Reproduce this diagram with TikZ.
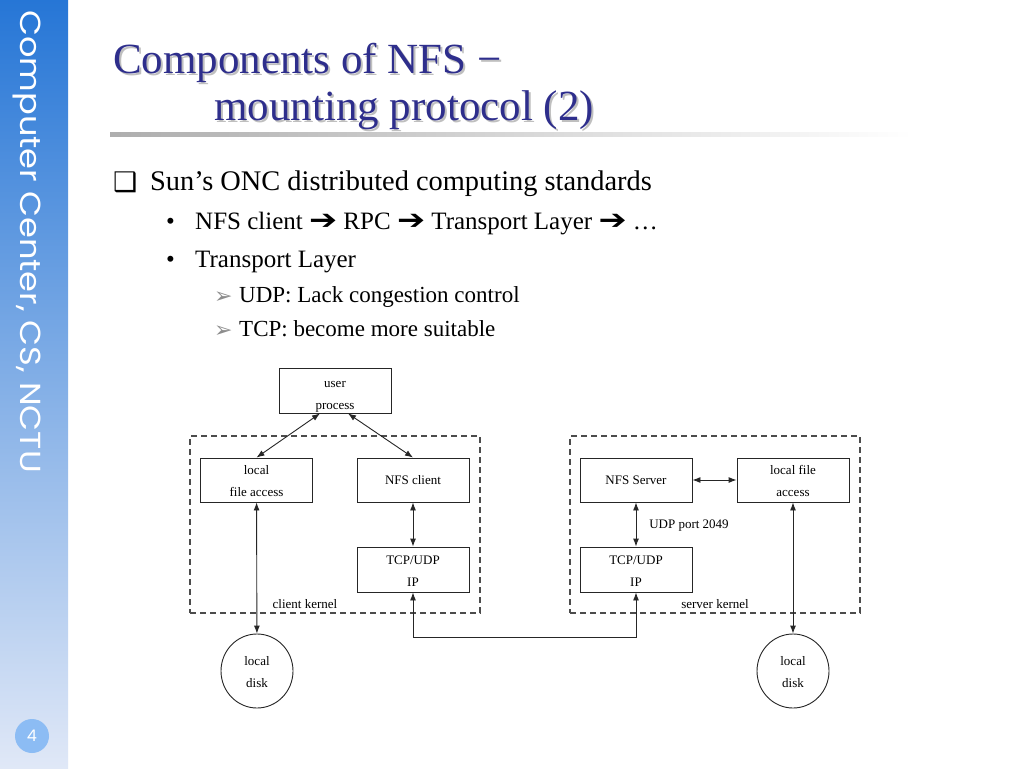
\documentclass[tikz,border=0pt]{standalone}
\usepackage{fontspec}
\setmainfont{Liberation Serif}
\newfontfamily\sidefont{Poppins}
\newfontfamily\symfont{DejaVu Sans}
\usetikzlibrary{arrows.meta,shapes.geometric}
\definecolor{titleblue}{RGB}{46,46,140}
\definecolor{sidetop}{RGB}{38,118,214}
\definecolor{sidebot}{RGB}{224,232,247}
\definecolor{pagecirc}{RGB}{140,188,244}
\newcommand\lowtext[2]{\raisebox{#1}[\height][\depth]{\begin{tabular}{@{}c@{}}#2\end{tabular}}}
\newcommand\txtarrow{\scalebox{1.4}[1.15]{\symfont\fontsize{24}{24}\selectfont ➔}}
\begin{document}
\begin{tikzpicture}[x=1pt,y=-1pt,
  box/.style={draw=black!85, line width=0.9pt, minimum width=112pt, minimum height=44pt, inner sep=0pt, align=center, font=\fontsize{13}{22}\selectfont},
  disk/.style={draw=black!85, line width=0.9pt, ellipse, minimum width=72pt, minimum height=74pt, inner sep=0pt, align=center, font=\fontsize{13}{22}\selectfont},
  kernel/.style={draw=black!70, line width=1.1pt, dash pattern=on 6pt off 4pt, minimum width=290pt, minimum height=177pt, inner sep=0pt},
  lbl/.style={font=\fontsize{13}{15}\selectfont, inner sep=0pt},
  link/.style={line width=0.9pt, draw=black!85, {Latex[length=8pt,width=6pt]}-{Latex[length=8pt,width=6pt]}},
  body/.style={anchor=base west, inner sep=0pt},
  title/.style={anchor=base west, inner sep=0pt, font=\fontsize{43}{43}\selectfont},
]
\fill[white] (0,0) rectangle (1024,768);
\useasboundingbox (0,0) rectangle (1024,768);

% sidebar
\shade[top color=sidetop, bottom color=sidebot] (0,0) rectangle (68,768);
\node[rotate=-90, anchor=base west, inner sep=0pt, text=white, font=\sidefont\fontsize{29}{29}\selectfont] (side) at (20,10) {\scalebox{1.16}[1]{Computer Center, CS, NCTU}};
\fill[pagecirc] (32,736) circle (17);
\node[text=white, font=\sidefont\fontsize{16}{16}\selectfont, inner sep=0pt] (pnum) at (32,736) {4};

% title
\node[title, text=black!25] (t1s) at (115,75) {Components of NFS −};
\node[title, text=titleblue] (t1) at (113,73) {Components of NFS −};
\node[title, text=black!25] (t2s) at (216,122) {mounting protocol (2)};
\node[title, text=titleblue] (t2) at (214,120) {mounting protocol (2)};
\shade[left color=black!32, right color=white] (110,132) rectangle (912,136);

% body text
\node[body, font=\symfont\fontsize{27}{27}\selectfont] (b0) at (113,191) {❑};
\node[body, font=\fontsize{28.4}{28}\selectfont] (l1) at (150,190) {Sun’s ONC distributed computing standards};
\node[body, font=\fontsize{25}{25}\selectfont] (b1) at (166,229) {•};
\node[body, font=\fontsize{25}{25}\selectfont] (l2) at (195,229) {NFS client \txtarrow{} RPC \txtarrow{} Transport Layer \txtarrow{} …};
\node[body, font=\fontsize{25}{25}\selectfont] (b2) at (166,267) {•};
\node[body, font=\fontsize{25}{25}\selectfont] (l3) at (195,267) {Transport Layer};
\node[body, text=black!45, font=\symfont\fontsize{22}{22}\selectfont] (b3) at (214,303) {➢};
\node[body, font=\fontsize{23}{23}\selectfont] (l4) at (239,302) {UDP: Lack congestion control};
\node[body, text=black!45, font=\symfont\fontsize{22}{22}\selectfont] (b4) at (214,337) {➢};
\node[body, font=\fontsize{23}{23}\selectfont] (l5) at (239,336) {TCP: become more suitable};

% diagram
\node[kernel] (ck) at (335,524.5) {};
\node[kernel] (sk) at (715,524.5) {};
\node[lbl] (ckl) at (305,604) {client kernel};
\node[lbl] (skl) at (715,604) {server kernel};

\node[box, minimum height=45pt] (up) at (335,390.5) {\lowtext{-4pt}{user\\process}};
\node[box] (lfa) at (256.5,480) {\lowtext{-1pt}{local\\file access}};
\node[box] (nfsc) at (413,480) {NFS client};
\node[box, minimum height=45pt] (tcpc) at (413,569.5) {\lowtext{-2pt}{TCP/UDP\\IP}};
\node[box] (nfss) at (636,480) {NFS Server};
\node[box] (lfas) at (793,480) {\lowtext{-1pt}{local file\\access}};
\node[box, minimum height=45pt] (tcps) at (636,569.5) {\lowtext{-2pt}{TCP/UDP\\IP}};
\node[disk] (dl) at (257,671) {\lowtext{-1pt}{local\\disk}};
\node[disk] (dr) at (793,671) {\lowtext{-1pt}{local\\disk}};
\node[lbl] (port) at (689,526) {UDP port 2049};

\draw[link] ([xshift=-15pt]up.south) -- (lfa.north);
\draw[link] ([xshift=13pt]up.south) -- (nfsc.north);
\draw[link] (nfsc) -- (tcpc);
\draw[link] (lfa) -- (dl);
\draw[link] (nfss) -- (lfas);
\draw[link] (nfss) -- (tcps);
\draw[link] (lfas) -- (dr);
\coordinate (bend) at (413,637);
\draw[link] (tcpc.south) -- (bend) -| (tcps.south);
\end{tikzpicture}
\end{document}
